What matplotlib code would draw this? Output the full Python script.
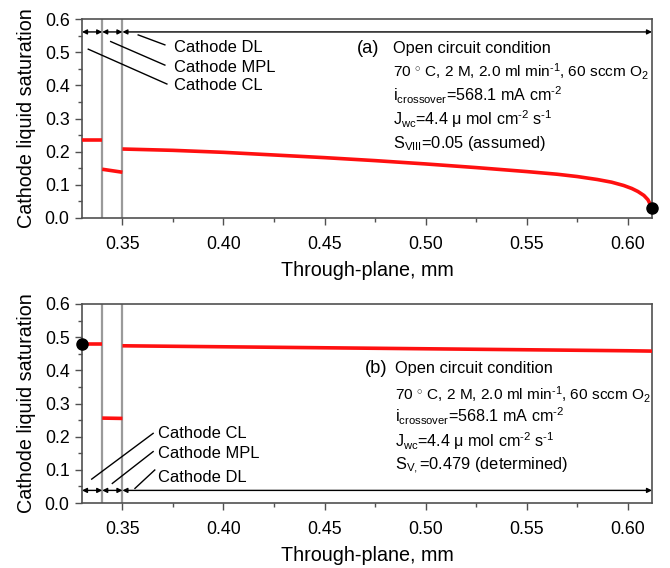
import numpy as np
import matplotlib
matplotlib.use("Agg")
import matplotlib.pyplot as plt
from matplotlib.ticker import MultipleLocator, FormatStrFormatter

plt.rcParams['font.family'] = ['Liberation Sans', 'DejaVu Sans']
plt.rcParams['mathtext.fontset'] = 'custom'
plt.rcParams['mathtext.rm'] = 'Liberation Sans'
plt.rcParams['mathtext.it'] = 'Liberation Sans:italic'
plt.rcParams['mathtext.bf'] = 'Liberation Sans:bold'

# Layer boundaries (mm, through-plane)
x_start = 0.33
x_cl_mpl = 0.34
x_mpl_dl = 0.35
x_end = 0.612

# (a) Open circuit, S_VIII assumed
a_cl_x = [0.33, 0.34]
a_cl_s = [0.236, 0.236]
a_mpl_x = [0.34, 0.35]
a_mpl_s = [0.147, 0.138]
a_dl_x = [0.35, 0.375, 0.40, 0.425, 0.45, 0.475, 0.50, 0.525, 0.55, 0.565,
          0.575, 0.585, 0.592, 0.598, 0.602, 0.605, 0.608, 0.610, 0.612]
a_dl_s = [0.208, 0.204, 0.198, 0.190, 0.182, 0.173, 0.163, 0.152, 0.140, 0.132,
          0.125, 0.116, 0.108, 0.098, 0.089, 0.080, 0.068, 0.055, 0.030]
a_point = (0.612, 0.030)

# (b) Open circuit, S_V determined
b_cl_x = [0.33, 0.34]
b_cl_s = [0.479, 0.479]
b_mpl_x = [0.34, 0.35]
b_mpl_s = [0.256, 0.255]
b_dl_x = [0.35, 0.40, 0.45, 0.50, 0.55, 0.60, 0.612]
b_dl_s = [0.474, 0.471, 0.468, 0.465, 0.462, 0.459, 0.458]
b_point = (0.33, 0.479)

line_cond = "Open circuit condition"
line_op = r"70 $^{\circ}$ C, 2 M, 2.0 ml min$^{\text{-1}}$, 60 sccm O$_{2}$"
line_i = r"i$_{\mathrm{crossover}}$=568.1 mA cm$^{\text{-2}}$"
line_j = r"J$_{\mathrm{wc}}$=4.4 μ mol cm$^{\text{-2}}$ s$^{\text{-1}}$"
info_a = [line_cond, line_op, line_i, line_j, r"S$_{\mathrm{VIII}}$=0.05 (assumed)"]
info_b = [line_cond, line_op, line_i, line_j, r"S$_{\mathrm{V,}}$=0.479 (determined)"]
info_sizes = [11.8, 11.1, 11.6, 11.6, 11.8]
layer_names = ["Cathode DL", "Cathode MPL", "Cathode CL"]

W, H = 670, 568
fig = plt.figure(figsize=(W / 100, H / 100), dpi=100)
ax_a = fig.add_axes([82 / W, 1 - 218 / H, 570 / W, 199 / H])
ax_b = fig.add_axes([82 / W, 1 - 503 / H, 570 / W, 199 / H])

RED = '#ff1010'
SPINE = '#505050'


def style(ax):
    ax.set_xlim(x_start, x_end)
    ax.set_ylim(0.0, 0.6)
    ax.xaxis.set_major_locator(MultipleLocator(0.05))
    ax.xaxis.set_minor_locator(MultipleLocator(0.025))
    ax.yaxis.set_major_locator(MultipleLocator(0.1))
    ax.yaxis.set_minor_locator(MultipleLocator(0.05))
    ax.xaxis.set_major_formatter(FormatStrFormatter('%.2f'))
    ax.yaxis.set_major_formatter(FormatStrFormatter('%.1f'))
    ax.tick_params(which='major', direction='out', length=5, width=1,
                   color=SPINE, labelsize=12.8, pad=4)
    ax.tick_params(which='minor', direction='out', length=3, width=1, color=SPINE)
    ax.tick_params(axis='x', which='major', pad=8)
    for s in ax.spines.values():
        s.set_color(SPINE)
        s.set_linewidth(1.2)
    ax.set_xlabel("Through-plane, mm", fontsize=14.2, labelpad=6)
    ax.set_ylabel("Cathode liquid saturation", fontsize=14.2, labelpad=6)
    for xv in (x_cl_mpl, x_mpl_dl):
        ax.axvline(xv, color='#9a9a9a', lw=1.6, zorder=1)


def arrows(ax, y):
    kw = dict(arrowstyle='<|-|>', color='black', lw=1.0, mutation_scale=7,
              shrinkA=0, shrinkB=0)
    for x0, x1 in ((x_start, x_cl_mpl), (x_cl_mpl, x_mpl_dl), (x_mpl_dl, x_end)):
        ax.annotate('', xy=(x1, y), xytext=(x0, y), arrowprops=kw,
                    annotation_clip=False)


def fy(py):
    return 1 - py / H


def fx(px):
    return px / W


def info(tag, lines, x_tag, x_txt, baselines):
    fig.text(x_tag, baselines[0], tag, fontsize=13.2, va='baseline', ha='left')
    for line, yb, fs in zip(lines, baselines, info_sizes):
        fig.text(x_txt, yb, line, fontsize=fs, va='baseline', ha='left')


def segments(ax, pieces):
    for xs, ys in pieces:
        ax.plot(xs, ys, color=RED, lw=2.6, solid_capstyle='butt', zorder=3)


# ---- (a)
style(ax_a)
segments(ax_a, [(a_cl_x, a_cl_s), (a_mpl_x, a_mpl_s), (a_dl_x, a_dl_s)])
ax_a.plot(*a_point, 'o', color='black', ms=8, clip_on=False, zorder=5)
arrows(ax_a, 0.561)
# leader lines to layer labels
for (p0, p1), name, ty in zip([((0.3578, 0.552), (0.371, 0.522)),
                               ((0.3442, 0.532), (0.371, 0.461)),
                               ((0.3331, 0.509), (0.372, 0.404))],
                              layer_names, [0.513, 0.455, 0.398]):
    ax_a.plot([p0[0], p1[0]], [p0[1], p1[1]], color='black', lw=1.0)
    ax_a.text(0.3755, ty, name, fontsize=11.9, va='center', ha='left')
info("(a)", info_a, fx(357), fx(393),
     [fy(53.3), fy(77), fy(101), fy(124.5), fy(148.3)])

# ---- (b)
style(ax_b)
segments(ax_b, [(b_cl_x, b_cl_s), (b_mpl_x, b_mpl_s), (b_dl_x, b_dl_s)])
ax_b.plot(*b_point, 'o', color='black', ms=8, clip_on=False, zorder=5)
arrows(ax_b, 0.038)
for (p0, p1), name, ty in zip([((0.3562, 0.044), (0.366, 0.0995)),
                               ((0.345, 0.059), (0.3652, 0.155)),
                               ((0.3348, 0.072), (0.3652, 0.210))],
                              layer_names, [0.077, 0.148, 0.210]):
    ax_b.plot([p0[0], p1[0]], [p0[1], p1[1]], color='black', lw=1.0)
    ax_b.text(0.3677, ty, name, fontsize=11.9, va='center', ha='left')
info("(b)", info_b, fx(365), fx(395),
     [fy(373.3), fy(399.3), fy(422.7), fy(446.7), fy(469.3)])

fig.savefig("out.png", dpi=100)
